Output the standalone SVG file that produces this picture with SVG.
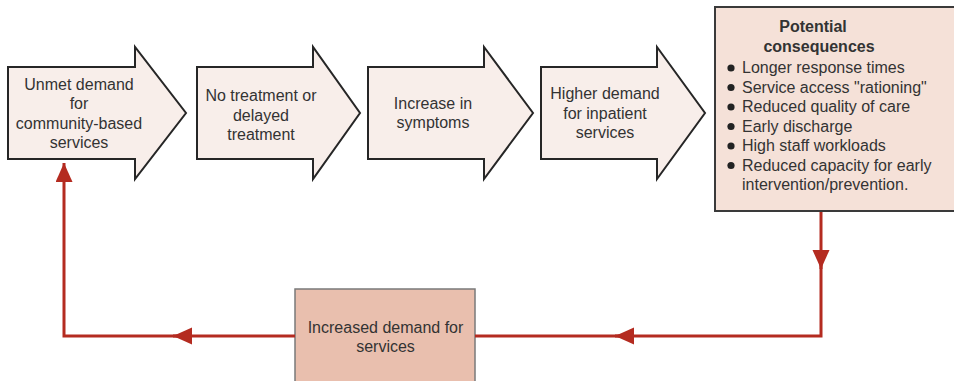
<svg xmlns="http://www.w3.org/2000/svg" width="954" height="381" viewBox="0 0 954 381">
  <defs>
    <marker id="head" markerUnits="userSpaceOnUse" markerWidth="20" markerHeight="18" refX="19" refY="8.5" orient="auto">
      <path d="M0,0 L19,8.5 L0,17 Z" fill="#b42b20"/>
    </marker>
  </defs>
  <style>
    .step { fill: #f8eeea; stroke: #262626; stroke-width: 2; stroke-linejoin: miter; }
    .txt { font-family: "Liberation Sans", Arial, sans-serif; font-size: 16px; fill: #333; text-anchor: middle; }
    .list { font-family: "Liberation Sans", Arial, sans-serif; font-size: 16px; fill: #333; }
    .bold { font-weight: bold; }
    .link { fill: none; stroke: #b42b20; stroke-width: 3; }
  </style>
  <rect width="954" height="381" fill="#ffffff"/>

  <!-- process steps -->
  <g id="unmet-demand">
    <path class="step" d="M8,67 H135 V47 L186,113 L135,179 V159 H8 Z"/>
    <text class="txt" x="79" y="90">Unmet demand</text>
    <text class="txt" x="79" y="109">for</text>
    <text class="txt" x="79" y="128.5">community-based</text>
    <text class="txt" x="79" y="148">services</text>
  </g>

  <g id="no-treatment">
    <path class="step" d="M197,67 H313 V47 L360,113 L313,179 V159 H197 Z"/>
    <text class="txt" x="261" y="101">No treatment or</text>
    <text class="txt" x="261" y="120.5">delayed</text>
    <text class="txt" x="261" y="140">treatment</text>
  </g>

  <g id="symptoms">
    <path class="step" d="M368,67 H484 V47 L533,113 L484,179 V159 H368 Z"/>
    <text class="txt" x="433" y="108.5">Increase in</text>
    <text class="txt" x="433" y="128">symptoms</text>
  </g>

  <g id="inpatient-demand">
    <path class="step" d="M541,67 H657 V47 L705,113 L657,179 V159 H541 Z"/>
    <text class="txt" x="605" y="99">Higher demand</text>
    <text class="txt" x="605" y="118.5">for inpatient</text>
    <text class="txt" x="605" y="138">services</text>
  </g>

  <g id="consequences">
    <rect x="715" y="7" width="240" height="204" fill="#f5e1d8" stroke="#3a3a3a" stroke-width="2"/>
    <text class="txt bold" x="813" y="32">Potential</text>
    <text class="txt bold" x="819" y="52">consequences</text>
    <g fill="#222">
      <circle cx="731" cy="68" r="3.6"/>
      <circle cx="731" cy="87.5" r="3.6"/>
      <circle cx="731" cy="107" r="3.6"/>
      <circle cx="731" cy="126.5" r="3.6"/>
      <circle cx="731" cy="146" r="3.6"/>
      <circle cx="731" cy="165.5" r="3.6"/>
    </g>
    <text class="list" x="742" y="73">Longer response times</text>
    <text class="list" x="742" y="92.5">Service access "rationing"</text>
    <text class="list" x="742" y="112">Reduced quality of care</text>
    <text class="list" x="742" y="131.5">Early discharge</text>
    <text class="list" x="742" y="151">High staff workloads</text>
    <text class="list" x="742" y="170.5">Reduced capacity for early</text>
    <text class="list" x="742" y="190">intervention/prevention.</text>
  </g>

  <g id="increased-demand">
    <rect x="295" y="289" width="180" height="100" fill="#e9bfae" stroke="#7a7a7a" stroke-width="1.5"/>
    <text class="txt" x="385.5" y="333">Increased demand for</text>
    <text class="txt" x="385.5" y="352">services</text>
  </g>

  <!-- feedback loop -->
  <g id="connectors">
    <path class="link" d="M821,212 V269" marker-end="url(#head)"/>
    <path class="link" d="M821,262 V336 H615" marker-end="url(#head)"/>
    <path class="link" d="M622,336 H475"/>
    <path class="link" d="M295,336 H173" marker-end="url(#head)"/>
    <path class="link" d="M180,336 H64 V163" marker-end="url(#head)"/>
  </g>
</svg>
